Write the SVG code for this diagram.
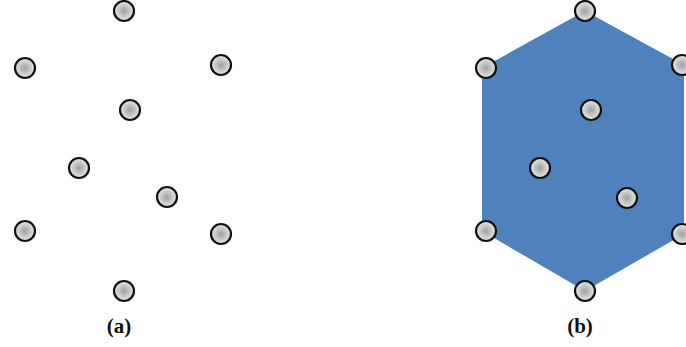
<svg xmlns="http://www.w3.org/2000/svg" width="686" height="347" viewBox="0 0 686 347">
<defs>
<radialGradient id="g" cx="0.5" cy="0.5" r="0.5">
<stop offset="0" stop-color="#a0a0a0"/>
<stop offset="1" stop-color="#e8e8e8"/>
</radialGradient>
<style>
.pt{fill:url(#g);stroke:#111;stroke-width:2.2}
.lbl{font-family:"Liberation Serif","DejaVu Serif",serif;font-weight:bold;font-size:21px;text-anchor:middle;fill:#111}
</style>
</defs>
<g id="hull"><polygon points="585,11 684,65 684,234 585,291 482,231 482,68" fill="#4f81bd"/></g>
<g id="set-a">
<circle class="pt" cx="124" cy="11" r="10"/>
<circle class="pt" cx="25" cy="68" r="10"/>
<circle class="pt" cx="221" cy="65" r="10"/>
<circle class="pt" cx="130" cy="110" r="10"/>
<circle class="pt" cx="79" cy="168" r="10"/>
<circle class="pt" cx="167" cy="197" r="10"/>
<circle class="pt" cx="25" cy="231" r="10"/>
<circle class="pt" cx="221" cy="234" r="10"/>
<circle class="pt" cx="124" cy="291" r="10"/>
</g>
<g id="set-b">
<circle class="pt" cx="585" cy="11" r="10"/>
<circle class="pt" cx="486" cy="68" r="10"/>
<circle class="pt" cx="682" cy="65" r="10"/>
<circle class="pt" cx="591" cy="110" r="10"/>
<circle class="pt" cx="540" cy="168" r="10"/>
<circle class="pt" cx="627" cy="198" r="10"/>
<circle class="pt" cx="486" cy="231" r="10"/>
<circle class="pt" cx="682" cy="234" r="10"/>
<circle class="pt" cx="585" cy="291" r="10"/>
</g>
<text class="lbl" x="119" y="333">(a)</text>
<text class="lbl" x="580" y="333">(b)</text>
</svg>
